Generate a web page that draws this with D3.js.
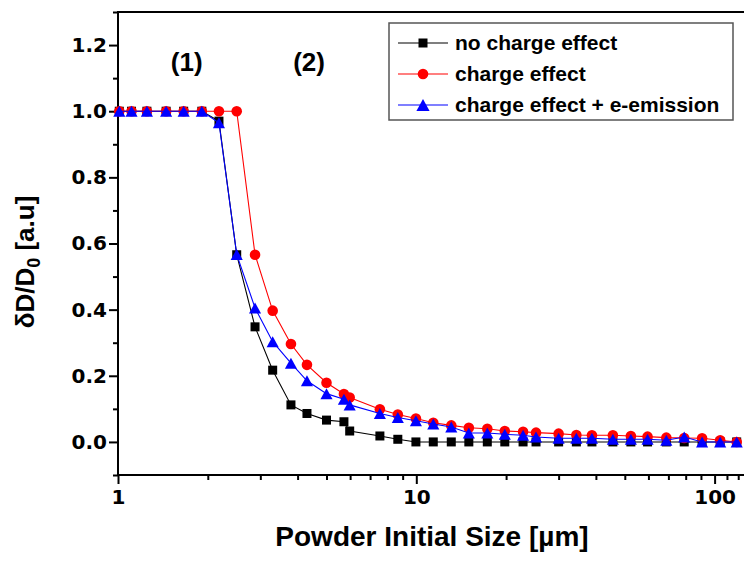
<!DOCTYPE html>
<html>
<head>
<meta charset="utf-8">
<script src="https://cdn.jsdelivr.net/npm/d3@7"></script>
<style>
  body { margin: 0; background: #fff; }
  svg text { font-family: "Liberation Sans", Arial, sans-serif; font-weight: bold; }
  .tick text { font-family: "DejaVu Sans", sans-serif; }
</style>
</head>
<body>
<div id="chart"></div>
<script>
// powder initial size [µm]
const sizes = [1.01, 1.11, 1.25, 1.45, 1.66, 1.91, 2.18, 2.5, 2.88, 3.3, 3.8, 4.3, 5.0, 5.72, 5.98,
  7.55, 8.67, 9.97, 11.4, 13.1, 15.0, 17.3, 19.8, 22.8, 25.2, 30.0, 34.4, 38.8, 45.6, 52.4, 59.6,
  68.9, 79.1, 90.8, 104.4, 118.6];

const noCharge = [1, 1, 1, 1, 1, 1, 0.97, 0.566, 0.348, 0.217, 0.112, 0.086, 0.066, 0.061, 0.033,
  0.018, 0.008, 0, 0, 0, 0, 0, 0, 0, 0, 0, 0, 0, 0, 0, 0, 0, 0, 0, 0, 0];

const charge = [1, 1, 1, 1, 1, 1, 1, 1, 0.566, 0.397, 0.296, 0.233, 0.179, 0.145, 0.134,
  0.099, 0.083, 0.071, 0.058, 0.05, 0.043, 0.04, 0.033, 0.031, 0.028, 0.025, 0.021, 0.02, 0.02,
  0.018, 0.016, 0.013, 0.012, 0.011, 0.005, 0];

const chargeEmission = [1, 1, 1, 1, 1, 1, 0.965, 0.567, 0.405, 0.303, 0.238, 0.185, 0.146, 0.129, 0.112,
  0.086, 0.074, 0.064, 0.054, 0.045, 0.027, 0.027, 0.023, 0.02, 0.015, 0.011, 0.011, 0.011, 0.008,
  0.008, 0.008, 0.005, 0.015, 0, 0, 0];

const seriesNames = ['no charge effect', 'charge effect', 'charge effect + e-emission'];
const yTicks = [0, 0.2, 0.4, 0.6, 0.8, 1.0, 1.2];
const xTicks = [1, 10, 100];
const regionLabels = ['(1)', '(2)'];
const regionX = [1.7, 4.37];

const width = 744, height = 561;
const plotLeft = 118, plotTop = 12, plotBottom = 475;

const svg = d3.select('#chart').append('svg')
  .attr('width', width)
  .attr('height', height);

const x = d3.scaleLog().domain([1, 127]).range([plotLeft, plotLeft + Math.log10(127) * 298.3]);
const y = d3.scaleLinear().domain([-0.1, 1.3]).range([plotBottom, plotTop]);

// minor ticks
const xMinor = [];
for (let d = 1; d <= 100; d *= 10) {
  for (let k = 2; k <= 9; k++) if (d * k < 127) xMinor.push(d * k);
}
xMinor.push(110, 120);
const yMinor = d3.range(-1, 14).map(i => i / 10).filter(v => !yTicks.some(t => Math.abs(t - v) < 1e-6));

svg.append('g')
  .attr('transform', 'translate(0,' + plotBottom + ')')
  .call(d3.axisBottom(x).tickValues(xMinor).tickSize(5).tickFormat('').tickSizeOuter(0))
  .call(g => g.select('.domain').remove())
  .selectAll('line').attr('stroke-width', 2);

svg.append('g')
  .attr('transform', 'translate(' + plotLeft + ',0)')
  .call(d3.axisLeft(y).tickValues(yMinor).tickSize(5).tickFormat('').tickSizeOuter(0))
  .call(g => g.select('.domain').remove())
  .selectAll('line').attr('stroke-width', 2);

const xAxis = svg.append('g')
  .attr('transform', 'translate(0,' + plotBottom + ')')
  .call(d3.axisBottom(x).tickValues(xTicks).tickSize(9).tickPadding(6).tickFormat(d3.format('d')).tickSizeOuter(0));
xAxis.select('.domain').remove();
xAxis.selectAll('line').attr('stroke-width', 2);
xAxis.selectAll('text').attr('font-size', 20).attr('fill', '#000');

const yAxis = svg.append('g')
  .attr('transform', 'translate(' + plotLeft + ',0)')
  .call(d3.axisLeft(y).tickValues(yTicks).tickSize(9).tickPadding(2).tickFormat(d3.format('.1f')).tickSizeOuter(0));
yAxis.select('.domain').remove();
yAxis.selectAll('line').attr('stroke-width', 2);
yAxis.selectAll('text').attr('font-size', 20).attr('fill', '#000');

// frame
const frame = svg.append('g').attr('stroke', '#000').attr('stroke-width', 2);
frame.append('line').attr('x1', plotLeft).attr('x2', width).attr('y1', plotTop).attr('y2', plotTop);
frame.append('line').attr('x1', plotLeft).attr('x2', width).attr('y1', plotBottom).attr('y2', plotBottom);
frame.append('line').attr('x1', plotLeft).attr('x2', plotLeft).attr('y1', plotTop - 1).attr('y2', plotBottom + 1);

// series
const triangle = s => 'M0,' + (-s / 2) + 'L' + (s * 0.55) + ',' + (s / 2) + 'L' + (-s * 0.55) + ',' + (s / 2) + 'Z';
const series = [
  { name: seriesNames[0], values: noCharge, color: '#000000', marker: 'square' },
  { name: seriesNames[1], values: charge, color: '#ff0000', marker: 'circle' },
  { name: seriesNames[2], values: chargeEmission, color: '#0000ff', marker: 'triangle' }
];

function drawMarker(g, type, color, big) {
  if (type === 'square') {
    const s = big ? 9 : 9;
    g.append('rect').attr('x', -s / 2).attr('y', -s / 2).attr('width', s).attr('height', s).attr('fill', color);
  } else if (type === 'circle') {
    g.append('circle').attr('r', big ? 5.3 : 5.3).attr('fill', color);
  } else {
    g.append('path').attr('d', triangle(big ? 12 : 11)).attr('fill', color);
  }
}

const line = d3.line().x(d => x(d[0])).y(d => y(d[1]));

series.forEach(s => {
  const pts = sizes.map((v, i) => [v, s.values[i]]);
  const g = svg.append('g');
  g.append('path')
    .datum(pts)
    .attr('d', line)
    .attr('fill', 'none')
    .attr('stroke', s.color)
    .attr('stroke-width', 1.1);
  g.selectAll('.pt')
    .data(pts)
    .enter()
    .append('g')
    .attr('transform', d => 'translate(' + x(d[0]) + ',' + y(d[1]) + ')')
    .each(function () { drawMarker(d3.select(this), s.marker, s.color, false); });
});

// region labels
svg.selectAll('.region')
  .data(regionLabels)
  .enter()
  .append('text')
  .attr('x', (d, i) => x(regionX[i]))
  .attr('y', y(1.15) + 9)
  .attr('text-anchor', 'middle')
  .attr('font-size', 26)
  .text(d => d);

// legend
const legend = svg.append('g');
legend.append('rect')
  .attr('x', 389).attr('y', 23).attr('width', 344).attr('height', 97)
  .attr('fill', '#fff').attr('stroke', '#555').attr('stroke-width', 1.5);
series.forEach((s, i) => {
  const row = legend.append('g').attr('transform', 'translate(0,' + (43 + i * 31) + ')');
  row.append('line').attr('x1', 398).attr('x2', 448).attr('stroke', s.color).attr('stroke-width', 1.1);
  drawMarker(row.append('g').attr('transform', 'translate(423,0)'), s.marker, s.color, true);
  row.append('text').attr('x', 455).attr('y', 7).attr('font-size', 21).text(s.name);
});

// axis titles
svg.append('text')
  .attr('x', 432).attr('y', 546)
  .attr('text-anchor', 'middle')
  .attr('font-size', 28)
  .text('Powder Initial Size [\u00b5m]');

const yTitle = svg.append('text')
  .attr('transform', 'translate(34,262) rotate(-90)')
  .attr('text-anchor', 'middle')
  .attr('font-size', 26);
yTitle.append('tspan').text('\u03b4D/D');
yTitle.append('tspan').attr('font-size', 18).attr('dy', 6).text('0');
yTitle.append('tspan').attr('dy', -6).text(' [a.u]');
</script>
</body>
</html>
